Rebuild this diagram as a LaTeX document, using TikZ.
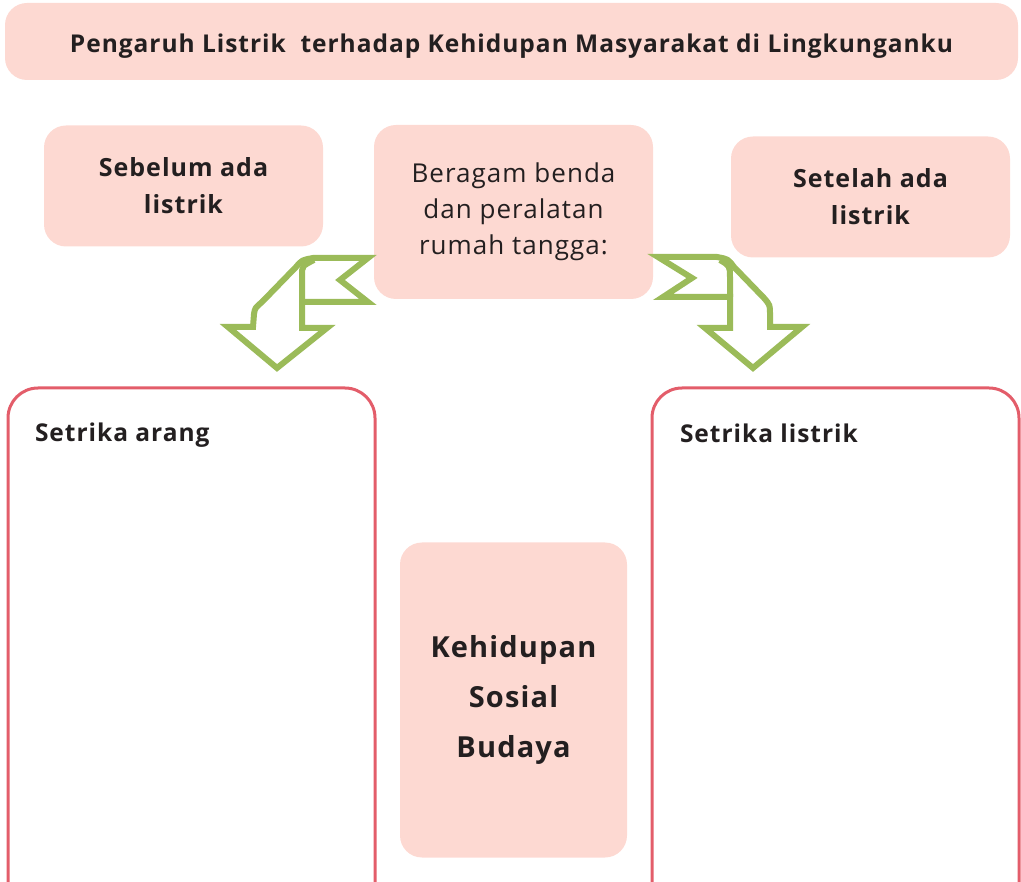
\documentclass[tikz,border=0pt]{standalone}
\usepackage{fontspec}
\setmainfont{Open Sans}[LetterSpace=4]
\definecolor{pinkfill}{HTML}{FDD9D2}
\definecolor{framered}{HTML}{E35D6A}
\definecolor{leafgreen}{HTML}{9BBB59}
\definecolor{ink}{HTML}{231F20}

\begin{document}
\begin{tikzpicture}[x=1pt,y=-1pt]
        \tikzstyle{every node}=[text=ink, inner sep=0pt, outer sep=0pt]
        \tikzstyle{pinkbox}=[fill=pinkfill, rounded corners=22pt, align=center, font=\fontsize{25}{37}\selectfont\bfseries]
        \tikzstyle{framebox}=[draw=framered, line width=3pt, rounded corners=30pt, anchor=north west]
        \tikzstyle{label}=[anchor=west, font=\fontsize{24.5}{28}\selectfont\bfseries]
        \tikzstyle{bendarrow}=[draw=leafgreen, line width=6pt, fill=white, line join=miter]
        \clip (0,0) rectangle (1021,882);
        % heading
        \node[pinkbox, minimum width=1013, minimum height=77, text depth=0pt] (judul) at (511.5,41.5) {};
        \node[font=\fontsize{24.5}{28}\selectfont\bfseries] at (511.5,46) {Pengaruh Listrik\ \ terhadap Kehidupan Masyarakat di Lingkunganku};
        % top row
        \node[pinkbox, minimum width=279, minimum height=121] (sebelum) at (183.5,186) {Sebelum ada\\listrik};
        \node[pinkbox, minimum width=279, minimum height=174, font=\fontsize{26}{36}\selectfont] (benda) at (513.5,212) {Beragam benda\\dan peralatan\\rumah tangga:};
        \node[pinkbox, minimum width=279, minimum height=121] (setelah) at (870.5,197) {Setelah ada\\listrik};
        % frames
        \node[framebox, minimum width=367, minimum height=540] (kiri) at (8,388) {};
        \node[framebox, minimum width=367, minimum height=540] (kanan) at (652,388) {};
        \node[label] (arang) at (35,435) {Setrika arang};
        \node[label] (listrik) at (680,433) {Setrika listrik};
        \node[pinkbox, minimum width=227, minimum height=315, font=\fontsize{29}{50}\selectfont\bfseries] (sosial) at (513.5,700) {Kehidupan\\Sosial\\Budaya};
        % arrows
        \draw[bendarrow] (368,258) -- (340,280) -- (368,302) -- (302,302) -- (302,328) -- (327,328) -- (277,368) -- (228,327) -- (253,327) -- (254,314) .. controls (255,308) .. (262,302) -- (296,267) .. controls (302,260) .. (313,258) -- cycle;
        \draw[bendarrow, fill=none] (302,302) -- (302,276) .. controls (302,266) .. (314,260);
        \draw[bendarrow] (658,257) -- (692,278) -- (663,297) -- (730,297) -- (730,328) -- (705,328) -- (753,368) -- (802,327) -- (770,327) -- (770,314) .. controls (770,305) .. (764,298) -- (734,267) .. controls (728,259) .. (717,257) -- cycle;
        \draw[bendarrow, fill=none] (730,297) -- (730,278) .. controls (730,266) .. (720,260);
\end{tikzpicture}
\end{document}
